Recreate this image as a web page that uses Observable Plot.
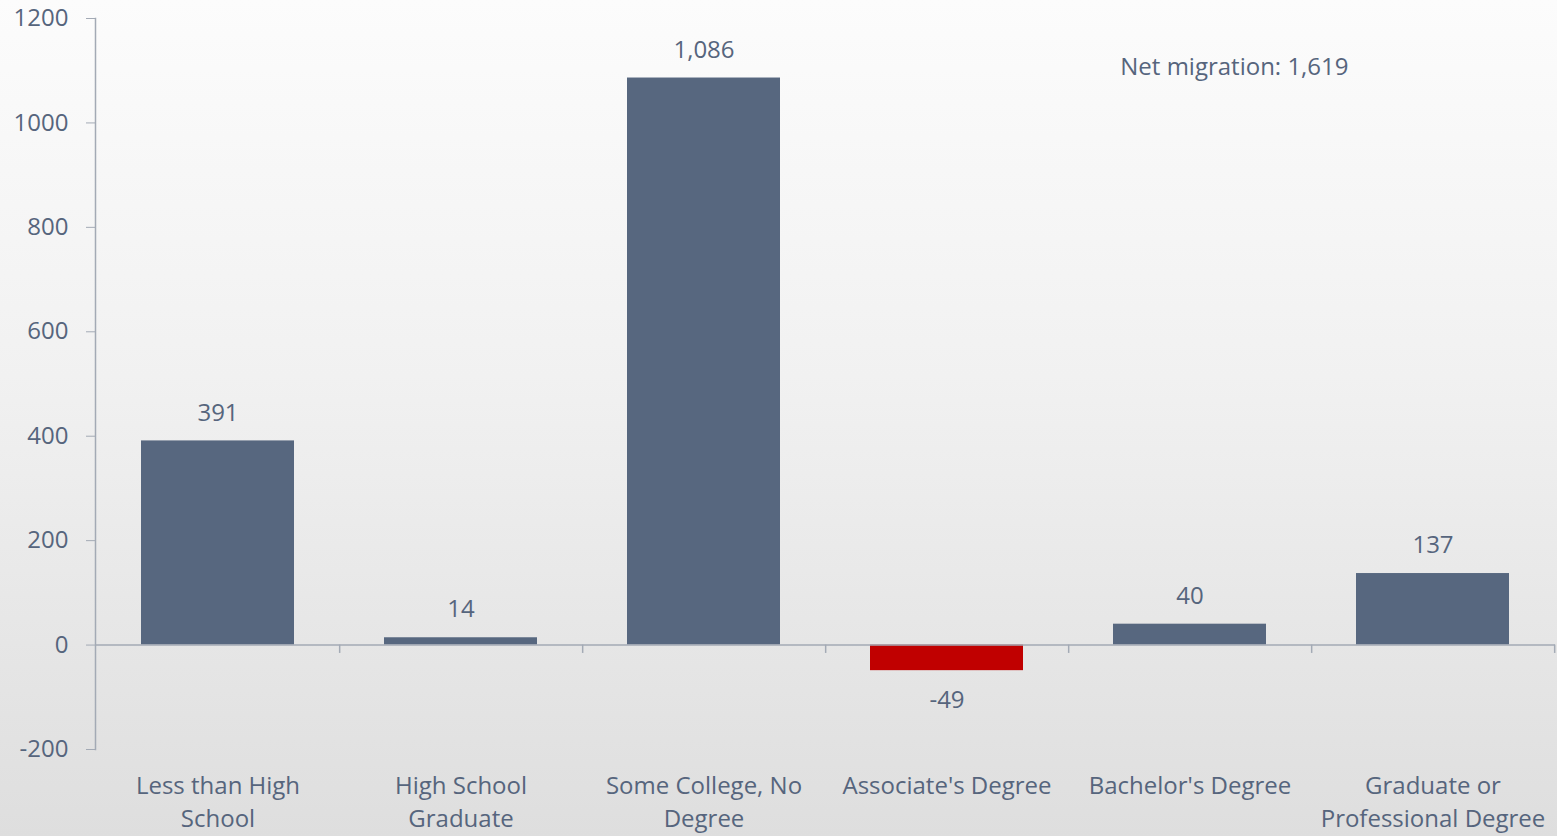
<!DOCTYPE html>
<html>
<head>
<meta charset="utf-8">
<script src="https://cdn.jsdelivr.net/npm/d3@7"></script>
<script src="https://cdn.jsdelivr.net/npm/@observablehq/plot@0.6"></script>
<style>
  html, body { margin: 0; padding: 0; }
  body { width: 1557px; height: 836px; overflow: hidden;
         background: linear-gradient(#fcfcfc 0%, #f1f1f1 45%, #dedede 100%); }
  svg { display: block; background: transparent !important; }
</style>
</head>
<body>
<div id="chart"></div>
<script>
const categories = ["Less than High School", "High School Graduate", "Some College, No Degree", "Associate's Degree", "Bachelor's Degree", "Graduate or Professional Degree"];
const tickLabels = ["Less than High\nSchool", "High School\nGraduate", "Some College, No\nDegree", "Associate's Degree", "Bachelor's Degree", "Graduate or\nProfessional Degree"];
const values = [391, 14, 1086, -49, 40, 137];
const yTicks = [-200, 0, 200, 400, 600, 800, 1000, 1200];
const note = "Net migration: 1,619";

const data = categories.map((c, i) => ({category: c, value: values[i], label: tickLabels[i]}));
const textColor = "#56657d";
const axisColor = "#a3aab5";
const fmt = d3.format(",");

const W = 1557, H = 836, ML = 95, MR = 2;
const step = (W - ML - MR) / categories.length;
const FS = 24;

const chart = Plot.plot({
  width: W, height: H,
  marginLeft: ML, marginRight: MR, marginTop: 18, marginBottom: 87,
  style: {fontFamily: "'Open Sans', sans-serif", fontSize: FS + "px", color: textColor, background: "transparent", overflow: "visible"},
  x: {domain: categories, paddingInner: 0.37, paddingOuter: 0.185, axis: null},
  y: {domain: [-200, 1200], axis: null},
  marks: [
    Plot.barY(data, {x: "category", y: "value", fill: d => d.value < 0 ? "#c00000" : "#57677f"}),
    Plot.ruleY([0], {stroke: axisColor, strokeWidth: 1.5}),
    Plot.ruleX(categories, {x: d => d, dx: step / 2, y1: 0, y2: -16, stroke: axisColor, strokeWidth: 1.5}),
    Plot.frame({anchor: "left", stroke: axisColor, strokeWidth: 1.5}),
    Plot.axisY({ticks: yTicks, tickSize: 9, tickPadding: 18, stroke: axisColor, strokeOpacity: 1, fill: textColor, fontSize: FS, label: null, tickFormat: d => String(d)}),
    Plot.axisX({tickSize: 0, tickPadding: 21, fill: textColor, fontSize: FS, lineHeight: 1.375, label: null, tickFormat: d => tickLabels[categories.indexOf(d)]}),
    Plot.text(data.filter(d => d.value >= 0), {x: "category", y: "value", text: d => fmt(d.value), fill: textColor, fontSize: FS, dy: -28, lineAnchor: "middle"}),
    Plot.text(data.filter(d => d.value < 0), {x: "category", y: "value", text: d => fmt(d.value).replace("−", "-"), fill: textColor, fontSize: FS, dy: 30, lineAnchor: "middle"}),
    Plot.text([note], {frameAnchor: "top-right", text: d => d, dx: -207, dy: 49, textAnchor: "end", lineAnchor: "middle", fill: textColor, fontSize: FS})
  ]
});
document.getElementById("chart").appendChild(chart);
</script>
</body>
</html>
